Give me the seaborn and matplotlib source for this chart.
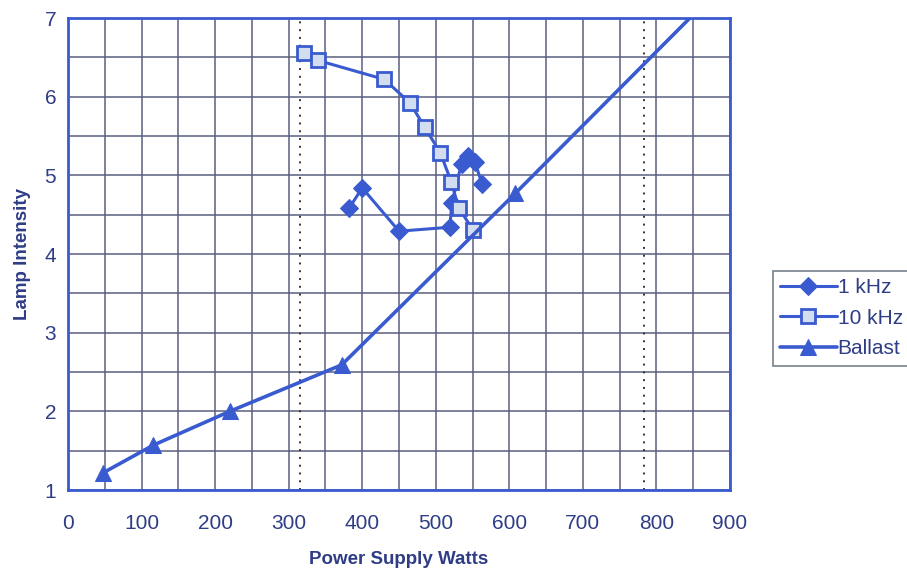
import seaborn as sns
import matplotlib.pyplot as plt
import numpy as np
import pandas as pd

# values
khz1_watts = [382, 400, 450, 519, 522, 535, 544, 553, 563]
khz1_lamp = [4.58, 4.84, 4.29, 4.34, 4.65, 5.15, 5.24, 5.17, 4.89]

khz10_watts = [321, 340, 430, 465, 485, 506, 521, 531, 551]
khz10_lamp = [6.56, 6.46, 6.22, 5.92, 5.61, 5.29, 4.92, 4.59, 4.30]

ballast_watts = [48, 116, 220, 372, 608, 870]
ballast_lamp = [1.22, 1.57, 2.00, 2.59, 4.77, 7.23]

ref_watts = [315, 783]

sns.set_style('white')
plt.rcParams['font.family'] = ['Liberation Sans', 'DejaVu Sans']

blue = '#3a5bd0'
text_blue = '#2e3d85'
grid_col = '#5a6080'

fig = plt.figure(figsize=(9.07, 5.74), dpi=100)
ax = fig.add_axes([68/907, 1-490/574, (730-68)/907, (490-18)/574])

sns.lineplot(x=khz1_watts, y=khz1_lamp, sort=False, ax=ax, color=blue, lw=2.2,
             marker='D', markersize=9, markerfacecolor=blue, markeredgecolor=blue,
             label='1 kHz')
sns.lineplot(x=khz10_watts, y=khz10_lamp, sort=False, ax=ax, color=blue, lw=2.2,
             marker='s', markersize=10, markerfacecolor='#d3ddf0', markeredgecolor=blue,
             markeredgewidth=2, label='10 kHz')
sns.lineplot(x=ballast_watts, y=ballast_lamp, sort=False, ax=ax, color=blue, lw=2.6,
             marker='^', markersize=12, markerfacecolor=blue, markeredgecolor=blue,
             label='Ballast')

for w in ref_watts:
    ax.axvline(w, color='#333333', ls=(0, (1, 3)), lw=1.4, zorder=1)

ax.set_xlim(0, 900)
ax.set_ylim(1, 7)
ax.set_xticks(np.arange(0, 901, 100))
ax.set_xticks(np.arange(0, 901, 50), minor=True)
ax.set_yticks(np.arange(1, 8, 1))
ax.set_yticks(np.arange(1, 7.01, 0.5), minor=True)
ax.grid(True, which='both', color=grid_col, lw=1.1, zorder=0)
ax.set_axisbelow(True)

for s in ax.spines.values():
    s.set_color(blue)
    s.set_linewidth(2)

ax.tick_params(axis='both', which='both', direction='out', length=5, color=grid_col,
               labelcolor=text_blue, labelsize=15)
ax.tick_params(axis='y', which='minor', length=0)
ax.tick_params(axis='x', which='both', direction='inout', length=8, pad=13)

ax.set_xlabel('Power Supply Watts', fontsize=13.5, fontweight='bold', color=text_blue,
              labelpad=13)
ax.set_ylabel('Lamp Intensity', fontsize=13.5, fontweight='bold', color=text_blue,
              labelpad=10)

leg = ax.legend(loc='upper left', bbox_to_anchor=(773/907, 1-271/574),
                bbox_transform=fig.transFigure, frameon=True, fancybox=False,
                fontsize=15, handlelength=2.7, borderpad=0.35, labelspacing=0.55,
                handletextpad=0.05, borderaxespad=0)
leg.get_frame().set_edgecolor('#556070')
leg.get_frame().set_linewidth(1.2)
for t in leg.get_texts():
    t.set_color(text_blue)

fig.savefig('out.png', dpi=100)
